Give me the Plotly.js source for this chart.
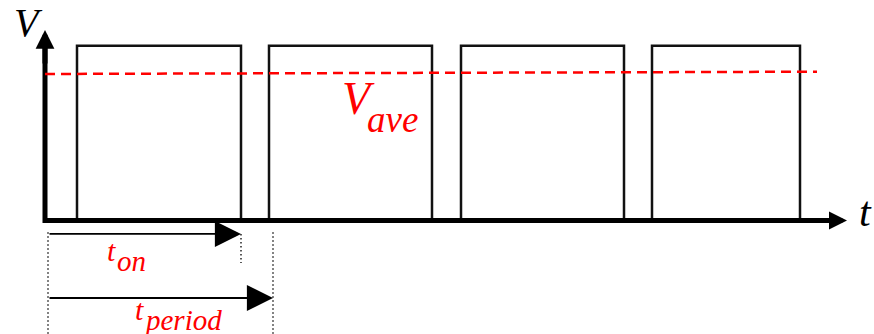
<!DOCTYPE html>
<html>
<head>
<meta charset="utf-8">
<script src="https://cdn.plot.ly/plotly-3.0.1.min.js"></script>
<style>
  #plot .annotation-text { font-family: "Liberation Serif", "Times New Roman", serif !important; font-style: italic !important; }
</style>
</head>
<body style="margin:0">
<div id="plot"></div>
<script>
// PWM waveform, time in arbitrary units (t = 0 at the V axis), voltage normalised to V_high = 1
const riseT = [32, 224, 416, 607];
const fallT = [196, 387, 579, 755];
const vHigh = 1;
const vAveT = [0, 772];
const vAve = [0.838, 0.851];
const tAxisEnd = 802;
const vAxisEnd = 1.09;
const tStart = 3;
const tOnEnd = 196;
const tPeriodEnd = 228;
const tOnLevel = -0.077;
const tPeriodLevel = -0.443;

// waveform built from the edges
const waveX = [];
const waveY = [];
riseT.forEach((r, i) => {
  waveX.push(r, r, fallT[i], fallT[i]);
  waveY.push(0, vHigh, vHigh, 0);
});

const dotted = { color: "#000", width: 1.3, dash: "1.5px,2.5px" };

const traces = [
  { x: waveX, y: waveY, mode: "lines", line: { color: "#111", width: 2.5 } },
  { x: [0, 0, tAxisEnd - 10], y: [vAxisEnd - 0.05, 0, 0], mode: "lines", line: { color: "#000", width: 5 } },
  { x: vAveT, y: vAve, mode: "lines", line: { color: "#ff0000", width: 2.5, dash: "10px,6px" } },
  // dotted guides
  { x: [tStart, tStart], y: [tOnLevel + 0.01, -0.66], mode: "lines", line: dotted },
  { x: [tOnEnd, tOnEnd], y: [tOnLevel, -0.243], mode: "lines", line: dotted },
  { x: [tPeriodEnd, tPeriodEnd], y: [tOnLevel + 0.01, -0.66], mode: "lines", line: dotted },
];

function arrow(x, y, ax, ay, w, s) {
  return {
    x: x, y: y, ax: ax, ay: ay, xref: "x", yref: "y", axref: "x", ayref: "y",
    text: "", showarrow: true, arrowhead: 2, arrowwidth: w, arrowsize: s, arrowcolor: "#000",
  };
}
function label(x, y, text, size, color) {
  return {
    x: x, y: y, xref: "x", yref: "y", text: text, showarrow: false, xanchor: "left",
    font: { family: "Liberation Serif", size: size, color: color, style: "italic" },
  };
}

const annotations = [
  arrow(tAxisEnd, 0, tAxisEnd - 40, 0, 5, 0.72),
  arrow(0, vAxisEnd, 0, vAxisEnd - 0.2, 5, 0.75),
  arrow(tOnEnd, tOnLevel, tStart, tOnLevel, 1.8, 2.9),
  arrow(tPeriodEnd, tPeriodLevel, tStart, tPeriodLevel, 1.8, 2.9),
  label(-33, 1.13, "V", 40, "#000"),
  label(812, 0.05, "t", 42, "#000"),
  label(295, 0.7, "V", 46, "#ff0000"),
  label(320, 0.58, "ave", 37, "#ff0000"),
  label(60, -0.17, "t", 30, "#ff0000"),
  label(70, -0.23, "on", 29, "#ff0000"),
  label(88, -0.51, "t", 30, "#ff0000"),
  label(97, -0.57, "period", 29, "#ff0000"),
];

Plotly.newPlot("plot", traces, {
  width: 874,
  height: 334,
  margin: { l: 0, r: 0, t: 0, b: 0 },
  font: { family: "Liberation Serif" },
  showlegend: false,
  hovermode: false,
  xaxis: { range: [-45, 829], visible: false },
  yaxis: { range: [-0.649, 1.261], visible: false },
  annotations: annotations,
}, { staticPlot: true });
</script>
</body>
</html>
